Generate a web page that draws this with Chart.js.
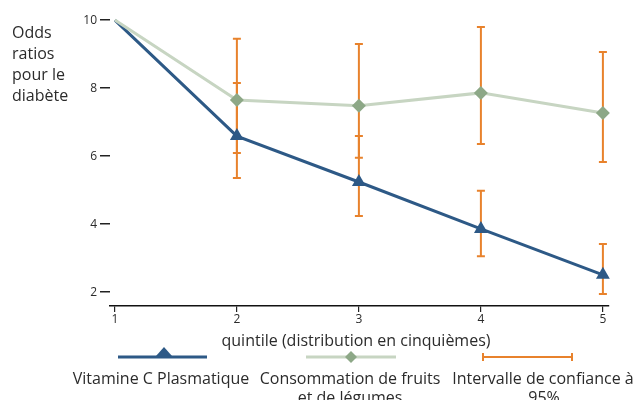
<!DOCTYPE html>
<html>
<head>
<meta charset="utf-8">
<script src="https://cdn.jsdelivr.net/npm/chart.js@4.4.1/dist/chart.umd.min.js"></script>
<style>
  html, body { margin: 0; padding: 0; background: #fff; }
</style>
</head>
<body>
<canvas id="odds-chart" width="633" height="400"></canvas>
<script>
// quintiles and odds ratios
const quintiles = [1, 2, 3, 4, 5];
const vitC = [10, 6.59, 5.24, 3.86, 2.51];
const fruits = [10, 7.65, 7.48, 7.86, 7.27];
// 95% confidence intervals
const vitCLow = [null, 5.36, 4.24, 3.06, 1.95];
const vitCHigh = [null, 8.15, 6.59, 4.98, 3.42];
const fruitsLow = [null, 6.09, 5.95, 6.36, 5.83];
const fruitsHigh = [null, 9.45, 9.30, 9.80, 9.06];
const yTicks = [2, 4, 6, 8, 10];

const BLUE = '#2d5986';
const GREEN_LINE = '#c7d5c2';
const GREEN_PT = '#8da887';
const ORANGE = '#e8822c';
const TXT = '#2b2b2b';
const FONT = '"Open Sans", Lato, sans-serif';

const errorBars = {
  id: 'errorBars',
  beforeDatasetsDraw(chart) {
    const ctx = chart.ctx, xs = chart.scales.x, ys = chart.scales.y;
    ctx.save();
    ctx.strokeStyle = ORANGE;
    ctx.lineWidth = 2;
    const draw = (lows, highs) => {
      quintiles.forEach((q, i) => {
        if (lows[i] == null) return;
        const x = xs.getPixelForValue(q);
        const y1 = ys.getPixelForValue(lows[i]);
        const y2 = ys.getPixelForValue(highs[i]);
        ctx.beginPath();
        ctx.moveTo(x, y1); ctx.lineTo(x, y2);
        ctx.moveTo(x - 4, y1); ctx.lineTo(x + 4, y1);
        ctx.moveTo(x - 4, y2); ctx.lineTo(x + 4, y2);
        ctx.stroke();
      });
    };
    draw(fruitsLow, fruitsHigh);
    draw(vitCLow, vitCHigh);
    ctx.restore();
  }
};

const texts = {
  id: 'texts',
  afterDraw(chart) {
    const ctx = chart.ctx;
    ctx.save();
    ctx.fillStyle = TXT;
    ctx.textBaseline = 'middle';
    ctx.font = '16px ' + FONT;
    // y title
    ctx.textAlign = 'left';
    ['Odds', 'ratios', 'pour le', 'diabète'].forEach((s, i) => ctx.fillText(s, 12, 33 + i * 21.3));
    // x title
    ctx.textAlign = 'center';
    ctx.fillText('quintile (distribution en cinquièmes)', 356, 341);

    // legend samples
    ctx.lineWidth = 3;
    ctx.strokeStyle = BLUE;
    ctx.beginPath(); ctx.moveTo(118, 357); ctx.lineTo(207, 357); ctx.stroke();
    ctx.fillStyle = BLUE;
    ctx.beginPath(); ctx.moveTo(164, 347); ctx.lineTo(172, 356); ctx.lineTo(156, 356); ctx.closePath(); ctx.fill();

    ctx.strokeStyle = GREEN_LINE;
    ctx.beginPath(); ctx.moveTo(306, 357); ctx.lineTo(396, 357); ctx.stroke();
    ctx.fillStyle = GREEN_PT;
    ctx.beginPath(); ctx.moveTo(351, 351); ctx.lineTo(357, 357); ctx.lineTo(351, 363); ctx.lineTo(345, 357); ctx.closePath(); ctx.fill();

    ctx.strokeStyle = ORANGE;
    ctx.lineWidth = 2;
    ctx.beginPath();
    ctx.moveTo(483, 357); ctx.lineTo(572, 357);
    ctx.moveTo(483, 353); ctx.lineTo(483, 361);
    ctx.moveTo(572, 353); ctx.lineTo(572, 361);
    ctx.stroke();

    ctx.fillStyle = TXT;
    ctx.fillText('Vitamine C Plasmatique', 161, 379);
    ctx.fillText('Consommation de fruits', 350, 379);
    ctx.fillText('et de légumes', 350, 398);
    ctx.fillText('Intervalle de confiance à', 543, 379);
    ctx.fillText('95%', 544, 398);
    ctx.restore();
  }
};

const ctx = document.getElementById('odds-chart').getContext('2d');
const oddsChart = new Chart(ctx, {
  type: 'line',
  data: {
    labels: quintiles,
    datasets: [{
      label: 'Consommation de fruits et de légumes',
      data: quintiles.map((q, i) => ({x: q, y: fruits[i]})),
      borderColor: GREEN_LINE,
      borderWidth: 3,
      pointStyle: 'rectRot',
      pointRadius: [0, 7, 7, 7, 7],
      pointBackgroundColor: GREEN_PT,
      pointBorderColor: GREEN_PT,
      pointBorderWidth: 0,
      tension: 0,
      clip: false
    }, {
      label: 'Vitamine C Plasmatique',
      data: quintiles.map((q, i) => ({x: q, y: vitC[i]})),
      borderColor: BLUE,
      borderWidth: 3,
      pointStyle: 'triangle',
      pointRadius: [0, 8, 8, 8, 8],
      pointBackgroundColor: BLUE,
      pointBorderColor: BLUE,
      pointBorderWidth: 0,
      tension: 0,
      clip: false
    }]
  },
  options: {
    responsive: false,
    animation: false,
    events: [],
    layout: { padding: { top: 15, right: 24, left: 0, bottom: 0 } },
    scales: {
      x: {
        type: 'linear',
        min: 0.96,
        max: 5.05,
        afterFit(s) { s.height = 94; },
        afterBuildTicks(s) { s.ticks = quintiles.map(v => ({value: v})); },
        border: { display: true, color: '#111', width: 1.5 },
        grid: { drawOnChartArea: false, drawTicks: true, tickLength: 6, color: '#222', lineWidth: 1.2 },
        ticks: { color: TXT, padding: 0, font: { size: 12, family: FONT } }
      },
      y: {
        min: 1.594,
        max: 10.15,
        afterFit(s) { s.width = 110; },
        afterBuildTicks(s) { s.ticks = yTicks.map(v => ({value: v})); },
        border: { display: false },
        grid: { drawOnChartArea: false, drawTicks: true, tickLength: 10, color: '#222', lineWidth: 1.5 },
        ticks: { color: TXT, padding: 3, font: { size: 12, family: FONT } }
      }
    },
    plugins: {
      legend: { display: false },
      tooltip: { enabled: false }
    }
  },
  plugins: [errorBars, texts]
});
</script>
</body>
</html>
